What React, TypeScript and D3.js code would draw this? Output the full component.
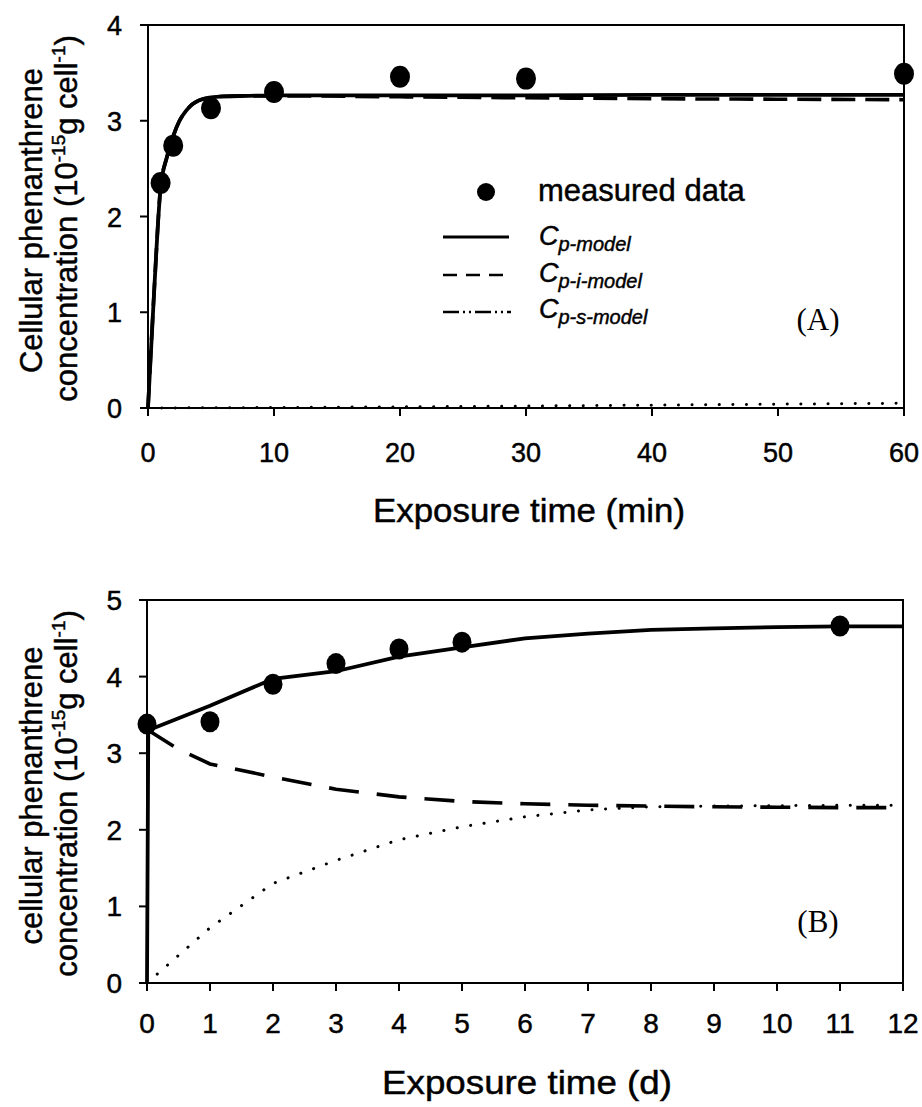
import React from "react";
import * as d3 from "d3";

// ---------- Data ----------
// Panel A (minutes)
const aMeasuredT = [1, 2, 5, 10, 20, 30, 60];
const aMeasuredC = [2.35, 2.74, 3.13, 3.3, 3.46, 3.44, 3.49];
const aCpT = [0, 0.5, 1, 1.5, 2, 2.5, 3, 3.5, 4, 5, 6, 8, 10, 20, 30, 40, 50, 60];
const aCpC = [0, 1.25, 2.3, 2.62, 2.84, 3.0, 3.1, 3.17, 3.21, 3.245, 3.255, 3.26, 3.265, 3.265, 3.265, 3.27, 3.27, 3.27];
const aCpiT = [0, 0.5, 1, 1.5, 2, 2.5, 3, 3.5, 4, 5, 6, 8, 10, 20, 30, 40, 50, 60];
const aCpiC = [0, 1.25, 2.3, 2.62, 2.84, 3.0, 3.1, 3.17, 3.21, 3.245, 3.255, 3.26, 3.26, 3.25, 3.24, 3.23, 3.225, 3.22];
const aCpsT = [0, 10, 20, 30, 40, 50, 60];
const aCpsC = [0, 0.005, 0.012, 0.02, 0.03, 0.04, 0.05];

// Panel B (days)
const bMeasuredT = [0, 1, 2, 3, 4, 5, 11];
const bMeasuredC = [3.38, 3.41, 3.9, 4.17, 4.36, 4.45, 4.66];
const bCpT = [0, 0.02, 1, 2, 3, 4, 5, 6, 7, 8, 9, 10, 11, 12];
const bCpC = [0, 3.3, 3.62, 3.97, 4.07, 4.26, 4.38, 4.5, 4.56, 4.61, 4.63, 4.645, 4.655, 4.655];
const bCpiT = [0.02, 0.5, 1, 2, 3, 4, 5, 6, 7, 8, 9, 10, 11, 12];
const bCpiC = [3.3, 3.05, 2.86, 2.69, 2.53, 2.43, 2.37, 2.34, 2.32, 2.31, 2.3, 2.295, 2.29, 2.29];
const bCpsT = [0, 1, 2, 3, 4, 5, 6, 7, 8, 9, 10, 11, 12];
const bCpsC = [0, 0.72, 1.3, 1.6, 1.87, 2.04, 2.17, 2.26, 2.3, 2.31, 2.315, 2.32, 2.32];

const aXTicks = [0, 10, 20, 30, 40, 50, 60];
const aYTicks = [0, 1, 2, 3, 4];
const bXTicks = [0, 1, 2, 3, 4, 5, 6, 7, 8, 9, 10, 11, 12];
const bYTicks = [0, 1, 2, 3, 4, 5];

const legendLabels = ["measured data", "p-model", "p-i-model", "p-s-model"];

const SANS = "'Liberation Sans', Arial, Helvetica, sans-serif";
const SERIF = "'Liberation Serif', 'Times New Roman', serif";

type Pt = [number, number];
const zip = (t: number[], c: number[]): Pt[] => t.map((v, i) => [v, c[i]]);

interface PanelProps {
  x0: number; x1: number; y0: number; y1: number;
  xDomain: [number, number]; yDomain: [number, number];
  xTicks: number[]; yTicks: number[];
  measured: Pt[]; cp: Pt[]; cpi: Pt[]; cps: Pt[];
  xTitle: string; yTitle1: string; panelLabel: string;
  labelX: number; labelY: number;
  dash: string; markerR: number; smooth: boolean;
  tickFont: number; tickBase: number;
  titleX: number; titleBase: number; titleLen: number;
}

const txt = { fill: "#000", stroke: "#000", strokeWidth: 0.45 };

function Panel(p: PanelProps) {
  const x = d3.scaleLinear().domain(p.xDomain).range([p.x0, p.x1]);
  const y = d3.scaleLinear().domain(p.yDomain).range([p.y1, p.y0]);
  const line = d3.line<Pt>().x(d => x(d[0])).y(d => y(d[1])).curve(p.smooth ? d3.curveMonotoneX : d3.curveLinear);
  const lineLin = d3.line<Pt>().x(d => x(d[0])).y(d => y(d[1]));
  const yMid = (p.y0 + p.y1) / 2;
  return (
    <g>
      {/* model curves */}
      <path d={lineLin(p.cps) || ""} fill="none" stroke="#000" strokeWidth={3} strokeDasharray="0.1 13.5" strokeLinecap="round" />
      <path d={line(p.cpi) || ""} fill="none" stroke="#000" strokeWidth={3.6} strokeDasharray={p.dash} />
      <path d={line(p.cp) || ""} fill="none" stroke="#000" strokeWidth={3.8} />
      {/* markers */}
      {p.measured.map((d, i) => (
        <ellipse key={i} cx={x(d[0])} cy={y(d[1])} rx={p.markerR} ry={p.markerR + 1} fill="#000" />
      ))}
      {/* frame */}
      <rect x={p.x0} y={p.y0} width={p.x1 - p.x0} height={p.y1 - p.y0} fill="none" stroke="#000" strokeWidth={2} />
      {/* x ticks */}
      {p.xTicks.map(t => (
        <g key={"x" + t}>
          <line x1={x(t)} x2={x(t)} y1={p.y1} y2={p.y1 + 8} stroke="#000" strokeWidth={2} />
          <text x={x(t)} y={p.tickBase} textAnchor="middle" fontFamily={SANS} fontSize={p.tickFont} {...txt}>{t}</text>
        </g>
      ))}
      {/* y ticks */}
      {p.yTicks.map(t => (
        <g key={"y" + t}>
          <line x1={p.x0 - 8} x2={p.x0} y1={y(t)} y2={y(t)} stroke="#000" strokeWidth={2} />
          <text x={122} y={y(t) + 10} textAnchor="end" fontFamily={SANS} fontSize={p.tickFont} {...txt}>{t}</text>
        </g>
      ))}
      {/* x title */}
      <text x={p.titleX} y={p.titleBase} textAnchor="middle" fontFamily={SANS} fontSize={33}
        textLength={p.titleLen} lengthAdjust="spacingAndGlyphs" {...txt}>{p.xTitle}</text>
      {/* y title */}
      <text transform={`translate(42,${yMid + 4}) rotate(-90)`} textAnchor="middle" fontFamily={SANS} fontSize={31} {...txt}>{p.yTitle1}</text>
      <text transform={`translate(77,${yMid + 2}) rotate(-90)`} textAnchor="middle" fontFamily={SANS} fontSize={31} {...txt}>
        concentration (10<tspan fontSize={19} dy={-12}>-15</tspan><tspan dy={12}>g cell</tspan><tspan fontSize={19} dy={-12}>-1</tspan><tspan dy={12}>)</tspan>
      </text>
      {/* panel label */}
      <text x={p.labelX} y={p.labelY} textAnchor="middle" fontFamily={SERIF} fontSize={31} fill="#000">{p.panelLabel}</text>
    </g>
  );
}

export default function App() {
  const legX = 443;
  const legTextX = 539;
  return (
    <svg width={922} height={1107} style={{ position: "absolute", left: 0, top: 0, background: "#fff" }}>
      <rect width={922} height={1107} fill="#fff" />
      <Panel
        x0={148} x1={904} y0={25} y1={408}
        xDomain={[0, 60]} yDomain={[0, 4]}
        xTicks={aXTicks} yTicks={aYTicks}
        measured={zip(aMeasuredT, aMeasuredC)}
        cp={zip(aCpT, aCpC)} cpi={zip(aCpiT, aCpiC)} cps={zip(aCpsT, aCpsC)}
        xTitle="Exposure time (min)" yTitle1="Cellular phenanthrene" panelLabel="(A)"
        labelX={818} labelY={330} dash="24 10" markerR={10} smooth={true}
        tickFont={27} tickBase={462}
        titleX={529} titleBase={522} titleLen={312}
      />
      <Panel
        x0={147} x1={903} y0={600} y1={983}
        xDomain={[0, 12]} yDomain={[0, 5]}
        xTicks={bXTicks} yTicks={bYTicks}
        measured={zip(bMeasuredT, bMeasuredC)}
        cp={zip(bCpT, bCpC)} cpi={zip(bCpiT, bCpiC)} cps={zip(bCpsT, bCpsC)}
        xTitle="Exposure time (d)" yTitle1="cellular phenanthrene" panelLabel="(B)"
        labelX={818} labelY={932} dash="30 18" markerR={9.5} smooth={false}
        tickFont={28} tickBase={1033}
        titleX={527} titleBase={1094} titleLen={290}
      />
      {/* legend */}
      <g>
        <circle cx={486} cy={192} r={9} fill="#000" />
        <text x={538} y={201} fontFamily={SANS} fontSize={31} {...txt}>{legendLabels[0]}</text>
        <line x1={legX} x2={509} y1={237} y2={237} stroke="#000" strokeWidth={3} />
        <line x1={legX} x2={511} y1={275} y2={275} stroke="#000" strokeWidth={2.5} strokeDasharray="14 9" />
        <line x1={legX} x2={511} y1={312} y2={312} stroke="#000" strokeWidth={2.5} strokeDasharray="16 4 2 4 2 4" />
        {[1, 2, 3].map(i => (
          <text key={i} x={legTextX} y={[0, 245, 282, 318][i]} fontFamily={SANS} fontStyle="italic" fontSize={27} {...txt}>
            C<tspan fontSize={20} dy={6}>{legendLabels[i]}</tspan>
          </text>
        ))}
      </g>
    </svg>
  );
}
